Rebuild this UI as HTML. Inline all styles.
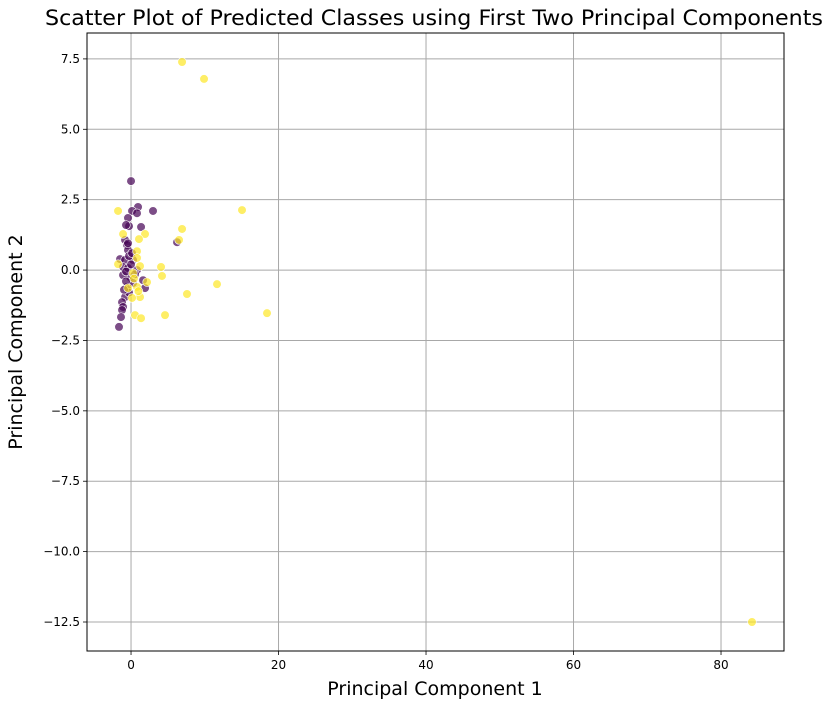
<!DOCTYPE html>
<html><head><meta charset="utf-8"><style>
body{margin:0;background:#fff;font-family:"Liberation Sans","DejaVu Sans",sans-serif}
</style></head><body>
<svg width="836" height="708" id="chart" style="font-family:'DejaVu Sans','Liberation Sans',sans-serif">
<text x="434" y="25" text-anchor="middle" font-size="21.5" textLength="778" lengthAdjust="spacingAndGlyphs">Scatter Plot of Predicted Classes using First Two Principal Components</text>
<g id="grid"></g><g id="pts"></g><g id="axes"></g>
<text x="435" y="695" text-anchor="middle" font-size="19">Principal Component 1</text>
<text transform="translate(22,342) rotate(-90)" text-anchor="middle" font-size="19">Principal Component 2</text>
</svg>
<script>
const purpleX=[0,0.95,0.14,0.81,2.98,-0.41,-0.27,1.36,-0.68,6.24,-0.81,-0.54,-0.41,-1.49,-0.81,0.27,-1.08,-0.41,-0.14,-1.08,1.63,1.9,-0.54,-0.81,-1.22,-1.08,-1.22,-1.36,-1.63,0.27,0.81,-0.27,0.0,-0.68,-0.27,0.54,-0.95,-0.41,0.14,-0.68];
const purpleY=[3.16,2.24,2.1,2.02,2.1,1.85,1.56,1.53,1.6,0.99,1.07,0.89,0.71,0.39,0.36,0.36,0.11,0.07,-0.25,-0.18,-0.36,-0.64,-0.6,-0.96,-1.14,-1.31,-1.42,-1.67,-2.02,-0.46,0,0.5,0.2,-0.4,-0.8,-0.15,-0.7,0.95,0.6,-0.05];
const yellowX=[-1.76,15.05,1.9,1.08,6.92,6.51,-1.08,0.81,0.81,-1.76,1.22,4.07,4.2,11.66,7.59,0.27,2.17,0.81,-0.41,1.22,0.14,0.54,1.36,4.61,18.44,6.92,9.9,84.2,0.4,1.0];
const yellowY=[2.1,2.13,1.28,1.1,1.46,1.07,1.28,0.67,0.43,0.21,0.14,0.11,-0.21,-0.5,-0.85,-0.11,-0.43,-0.6,-0.64,-0.96,-0.99,-1.6,-1.71,-1.6,-1.53,7.39,6.79,-12.5,-0.3,-0.75];
const xTicks=[0,20,40,60,80];
const yTicks=[7.5,5.0,2.5,0.0,-2.5,-5.0,-7.5,-10.0,-12.5];
const L=87,R=784,T=33,B=651;
const xMin=-5.97,xMax=88.54,yMin=-13.53,yMax=8.42;
const sx=v=>L+(v-xMin)/(xMax-xMin)*(R-L);
const sy=v=>B-(v-yMin)/(yMax-yMin)*(B-T);
const NS="http://www.w3.org/2000/svg";
function mk(tag,attrs,parent){const e=document.createElementNS(NS,tag);for(const k in attrs)e.setAttribute(k,attrs[k]);parent.appendChild(e);return e;}
const grid=document.getElementById('grid'),axes=document.getElementById('axes'),pts=document.getElementById('pts');
xTicks.forEach(t=>{const x=sx(t);
 const g=mk('line',{x1:x,x2:x,y1:T,y2:B,stroke:'#a8a8a8','stroke-width':1},grid);
 
 
 mk('line',{x1:x,x2:x,y1:B,y2:B+4,stroke:'#000','stroke-width':0.8},axes);
 const tx=mk('text',{x:x,y:B+18,'text-anchor':'middle','font-size':12},axes);tx.textContent=t;
 
 });
yTicks.forEach(t=>{const y=sy(t);
 const g=mk('line',{x1:L,x2:R,y1:y,y2:y,stroke:'#a8a8a8','stroke-width':1},grid);
 
 
 mk('line',{x1:L-4,x2:L,y1:y,y2:y,stroke:'#000','stroke-width':0.8},axes);
 const tx=mk('text',{x:L-7,y:y+4,'text-anchor':'end','font-size':12},axes);tx.textContent=t.toFixed(1).replace('-','−');
 
 });
const fr=mk('rect',{x:L,y:T,width:R-L,height:B-T,fill:'none',stroke:'#000','stroke-width':1},axes);


function draw(xs,ys,col,name){xs.forEach((v,i)=>{
 const c=mk('circle',{cx:sx(v),cy:sy(ys[i]),r:4.3,fill:col,'fill-opacity':0.7,stroke:'#fff','stroke-width':0.6},pts);
 
 });}
draw(purpleX,purpleY,'#440154','point-class-0');
draw(yellowX,yellowY,'#fde725','point-class-1');
</script>
</body></html>
